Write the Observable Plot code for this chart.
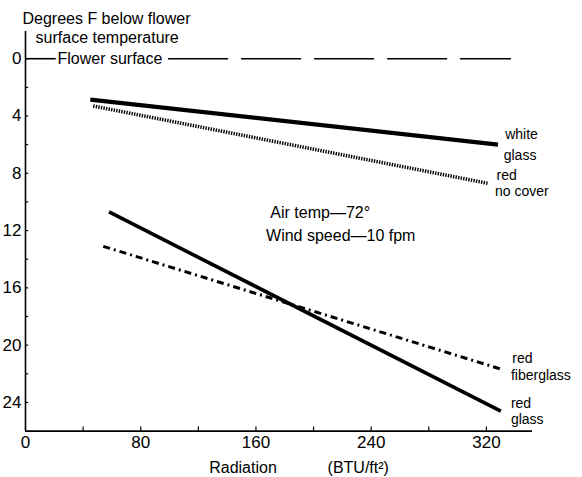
<!DOCTYPE html>
<html><head><meta charset="utf-8">
<script src="https://cdn.jsdelivr.net/npm/d3@7"></script>
<script src="https://cdn.jsdelivr.net/npm/@observablehq/plot@0.6"></script>
<style>body{margin:0;background:#fff} svg{display:block}</style>
</head><body><div id="chart"></div>
<script>
// Series: straight lines (start / end points)
const series = ["white glass", "red no cover", "red glass", "red fiberglass"];
const xStart = [45, 47, 58, 54];
const yStart = [2.86, 3.3, 10.7, 13.1];
const xEnd   = [328, 321, 330, 331];
const yEnd   = [6.0, 8.7, 24.6, 21.7];

// Flower surface reference line (y = 0)
const flowerY = 0;
const flowerSolid = [0, 21];
const flowerDashed = [99, 337];

// Axis ticks
const xTicks = [0, 80, 160, 240, 320];
const xMinor = [40, 120, 200, 280];
const yTicks = [0, 4, 8, 12, 16, 20, 24];
const yMinor = [2, 6, 10, 14, 18, 22];
const xMax = 352, yMin = -1.9, yMax = 26;

// Labels
const labelText = ["white", "glass", "red", "no cover", "red", "fiberglass", "red", "glass"];
const labelX    = [333, 332, 327, 326, 338, 337, 337, 337];
const labelY    = [5.3, 6.77, 8.15, 9.25, 20.95, 22.1, 24.05, 25.2];

const noteText = ["Air temp\u201472\u00b0", "Wind speed\u201410 fpm", "Flower surface"];
const noteX = [170, 167, 22.2];
const noteY = [10.75, 12.35, 0];

const titleText = ["Degrees F below flower", "surface temperature"];
const titleX = [-2.1, 7];
const titleY = [-2.79, -1.47];

const xLabelText = ["Radiation", "(BTU/ft\u00b2)"];
const xLabelX = [151, 231];
const xLabelY = [28.6, 28.6];

const lines = series.map((s, i) => ({s, x1: xStart[i], y1: yStart[i], x2: xEnd[i], y2: yEnd[i]}));
const styles = {
  "white glass": {strokeWidth: 4.2},
  "red no cover": {strokeWidth: 3.5, strokeDasharray: "1.4,1.2"},
  "red glass": {strokeWidth: 3.6},
  "red fiberglass": {strokeWidth: 3, strokeDasharray: "7,4,2,4"}
};

const idx = a => a.map((_, i) => i);

const chart = Plot.plot({
  width: 582, height: 477,
  marginLeft: 25, marginRight: 50, marginTop: 31, marginBottom: 46.4,
  x: {domain: [0, xMax]},
  y: {domain: [yMax, yMin]},
  style: {fontFamily: "'Liberation Sans', Arial, sans-serif", background: "white", color: "black"},
  marks: [
    Plot.axisX({ticks: xTicks, tickSize: 0, tickPadding: 5, fontSize: 17, label: null, anchor: "bottom"}),
    Plot.axisY({ticks: yTicks, tickSize: 0, tickPadding: 4, fontSize: 17, label: null, anchor: "left"}),
    Plot.ruleX([0], {y1: yMin, y2: yMax, strokeWidth: 1.6}),
    Plot.ruleY([yMax], {x1: 0, x2: xMax, strokeWidth: 1.6}),
    Plot.ruleX(xTicks.concat(xMinor), {x: d => d, y1: yMax, y2: yMax - 0.28, strokeWidth: 1.2}),
    Plot.ruleY(yTicks.concat(yMinor), {y: d => d, x1: 0, x2: 2.2, strokeWidth: 1.2}),
    Plot.link([flowerY], {x1: flowerSolid[0], x2: flowerSolid[1], y1: d => d, y2: d => d, strokeWidth: 1.6}),
    Plot.link([flowerY], {x1: flowerDashed[0], x2: flowerDashed[1], y1: d => d, y2: d => d, strokeWidth: 1.6, strokeDasharray: "60,13"}),
    ...series.map(s => Plot.link(lines.filter(d => d.s === s), {x1: "x1", y1: "y1", x2: "x2", y2: "y2", stroke: "black", ...styles[s]})),
    Plot.text(idx(labelText), {x: i => labelX[i], y: i => labelY[i], text: i => labelText[i], textAnchor: "start", fontSize: 14}),
    Plot.text(idx(noteText), {x: i => noteX[i], y: i => noteY[i], text: i => noteText[i], textAnchor: "start", fontSize: 16}),
    Plot.text(idx(titleText), {x: i => titleX[i], y: i => titleY[i], text: i => titleText[i], textAnchor: "start", fontSize: 16}),
    Plot.text(idx(xLabelText), {x: i => xLabelX[i], y: i => xLabelY[i], text: i => xLabelText[i], textAnchor: "middle", fontSize: 16})
  ]
});
document.getElementById("chart").append(chart);
</script></body></html>
